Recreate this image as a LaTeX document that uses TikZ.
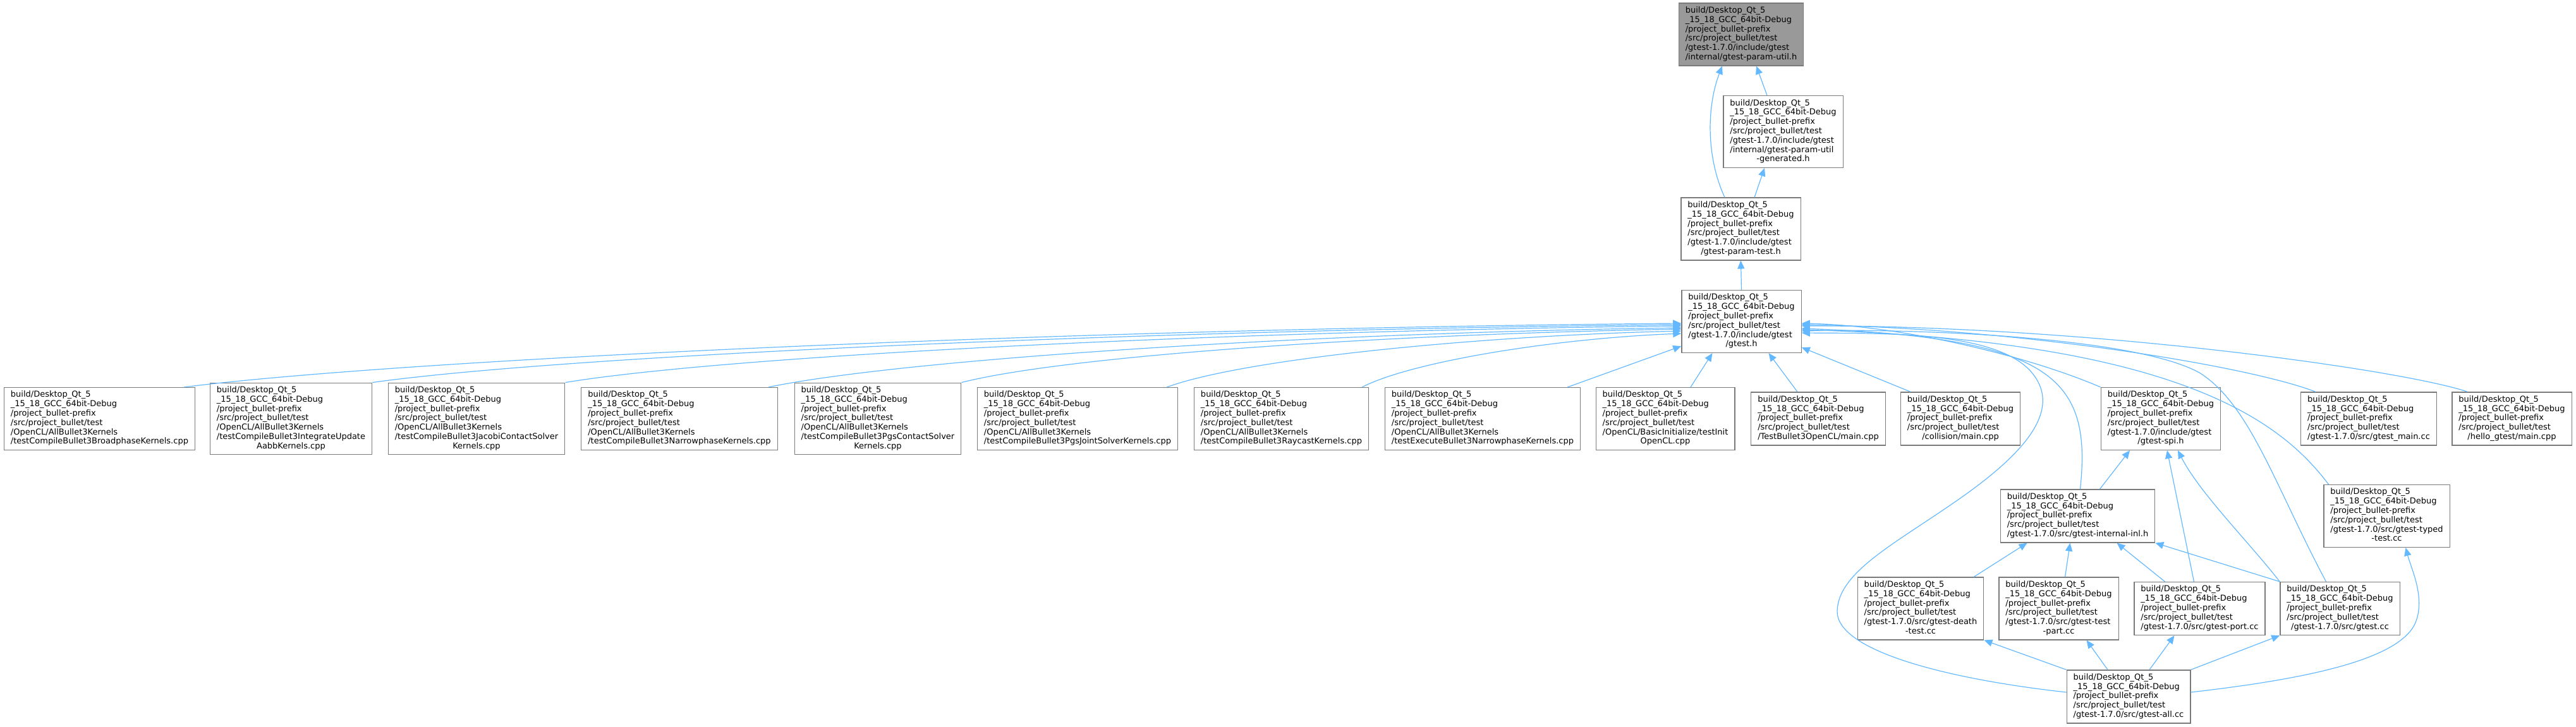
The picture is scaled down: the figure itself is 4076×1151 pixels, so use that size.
\documentclass[tikz,border=0pt]{standalone}
\usepackage{fontspec}
\setmainfont{DejaVu Sans}
\usepackage{xcolor}
\usetikzlibrary{arrows.meta, calc}
\definecolor{edgeblue}{HTML}{63B8FF}
\definecolor{boxgray}{HTML}{7A7A7A}
\definecolor{rootgray}{HTML}{999999}
\tikzset{
  incnode/.style  = {draw=boxgray, line width=0.65pt, fill=white,
                     inner xsep=5.25pt, inner ysep=2.5pt,
                     font=\fontsize{6.5pt}{7.4pt}\selectfont},
  rootnode/.style = {incnode, fill=rootgray},
  dep/.style      = {draw=edgeblue, line width=0.6pt,
                     -{Triangle[length=6.5pt, width=5.6pt]}},
}
\newcommand{\bpath}{build/Desktop\_Qt\_5\\\_15\_18\_GCC\_64bit-Debug\\/project\_bullet-prefix\\/src/project\_bullet/test}
\newcommand{\inclabel}[2]{\begin{tabular}{@{}l@{}}#1\\\multicolumn{1}{@{}c@{}}{#2}\end{tabular}}

\begin{document}
\begin{tikzpicture}[x=0.5pt, y=-0.5pt]
    \useasboundingbox (0,0) rectangle (4076,1151);

    % --- header chain -------------------------------------------------------
    \node[rootnode] (paramutil) at (2755,54.5)
      {\inclabel{\bpath\\/gtest-1.7.0/include/gtest}{/internal/gtest-param-util.h}};
    \node[incnode] (paramgen) at (2821.5,208.5)
      {\inclabel{\bpath\\/gtest-1.7.0/include/gtest\\/internal/gtest-param-util}{-generated.h}};
    \node[incnode] (paramtest) at (2754.5,362.5)
      {\inclabel{\bpath\\/gtest-1.7.0/include/gtest}{/gtest-param-test.h}};
    \node[incnode] (gtesth) at (2755.5,509)
      {\inclabel{\bpath\\/gtest-1.7.0/include/gtest}{/gtest.h}};

    % --- files that include gtest.h -----------------------------------------
    \node[incnode] (broad) at (157.5,663)
      {\inclabel{\bpath\\/OpenCL/AllBullet3Kernels}{/testCompileBullet3BroadphaseKernels.cpp}};
    \node[incnode] (integ) at (460.5,663)
      {\inclabel{\bpath\\/OpenCL/AllBullet3Kernels\\/testCompileBullet3IntegrateUpdate}{AabbKernels.cpp}};
    \node[incnode] (jacobi) at (754,663)
      {\inclabel{\bpath\\/OpenCL/AllBullet3Kernels\\/testCompileBullet3JacobiContactSolver}{Kernels.cpp}};
    \node[incnode] (narrow) at (1075,663)
      {\inclabel{\bpath\\/OpenCL/AllBullet3Kernels}{/testCompileBullet3NarrowphaseKernels.cpp}};
    \node[incnode] (pgscont) at (1389,663)
      {\inclabel{\bpath\\/OpenCL/AllBullet3Kernels\\/testCompileBullet3PgsContactSolver}{Kernels.cpp}};
    \node[incnode] (pgsjoint) at (1705,663)
      {\inclabel{\bpath\\/OpenCL/AllBullet3Kernels}{/testCompileBullet3PgsJointSolverKernels.cpp}};
    \node[incnode] (raycast) at (2027.5,663)
      {\inclabel{\bpath\\/OpenCL/AllBullet3Kernels}{/testCompileBullet3RaycastKernels.cpp}};
    \node[incnode] (execnarrow) at (2346,663)
      {\inclabel{\bpath\\/OpenCL/AllBullet3Kernels}{/testExecuteBullet3NarrowphaseKernels.cpp}};
    \node[incnode] (initcl) at (2635,663)
      {\inclabel{\bpath\\/OpenCL/BasicInitialize/testInit}{OpenCL.cpp}};
    \node[incnode] (b3main) at (2877,663)
      {\inclabel{\bpath}{/TestBullet3OpenCL/main.cpp}};
    \node[incnode] (colmain) at (3102,663)
      {\inclabel{\bpath}{/collision/main.cpp}};
    \node[incnode] (spi) at (3419,663)
      {\inclabel{\bpath\\/gtest-1.7.0/include/gtest}{/gtest-spi.h}};
    \node[incnode] (gmain) at (3748,663)
      {\inclabel{\bpath}{/gtest-1.7.0/src/gtest\_main.cc}};
    \node[incnode] (hello) at (3974.5,663)
      {\inclabel{\bpath}{/hello\_gtest/main.cpp}};

    % --- gtest sources ------------------------------------------------------
    \node[incnode] (internal) at (3287.5,817)
      {\inclabel{\bpath}{/gtest-1.7.0/src/gtest-internal-inl.h}};
    \node[incnode] (typed) at (3776.5,817)
      {\inclabel{\bpath\\/gtest-1.7.0/src/gtest-typed}{-test.cc}};
    \node[incnode] (death) at (3039,963.5)
      {\inclabel{\bpath\\/gtest-1.7.0/src/gtest-death}{-test.cc}};
    \node[incnode] (testpart) at (3257.5,963.5)
      {\inclabel{\bpath\\/gtest-1.7.0/src/gtest-test}{-part.cc}};
    \node[incnode] (port) at (3480.5,963.5)
      {\inclabel{\bpath}{/gtest-1.7.0/src/gtest-port.cc}};
    \node[incnode] (gtestcc) at (3702.5,963.5)
      {\inclabel{\bpath}{/gtest-1.7.0/src/gtest.cc}};
    \node[incnode] (gall) at (3368,1103)
      {\inclabel{\bpath}{/gtest-1.7.0/src/gtest-all.cc}};

    % --- edges: header chain ------------------------------------------------
    \draw[dep] ($(paramgen.north)+(-25.5,0)$) -- ($(paramutil.south)+(24,0)$);
    \draw[dep] ($(paramtest.north)+(21.5,0)$) -- ($(paramgen.south)+(-29.5,0)$);
    \draw[dep] ($(paramtest.north)+(-25.5,0)$) .. controls (2700,250) and (2700,170)
      .. ($(paramutil.south)+(-30,0)$);
    \draw[dep] (gtesth.north) -- (paramtest.south);

    % --- edges: into gtest.h, left side -------------------------------------
    \draw[dep] ($(broad.north)+(133.5,0)$) .. controls (646,568) and (1712,520) .. ($(gtesth.west)+(0,3)$);
    \draw[dep] (integ.north east) .. controls (900,562) and (1832,522) .. ($(gtesth.west)+(0,5)$);
    \draw[dep] (jacobi.north east) .. controls (1160,562) and (1954,524) .. ($(gtesth.west)+(0,7)$);
    \draw[dep] ($(narrow.north east)+(-15,0)$) .. controls (1433,568) and (2082,527) .. ($(gtesth.west)+(0,10)$);
    \draw[dep] (pgscont.north east) .. controls (1693,562) and (2205,529) .. ($(gtesth.west)+(0,12)$);
    \draw[dep] ($(pgsjoint.north east)+(-18,0)$) .. controls (1969,568) and (2335,532) .. ($(gtesth.west)+(0,15)$);
    \draw[dep] ($(raycast.north east)+(-11,0)$) .. controls (2232,573) and (2458,536) .. ($(gtesth.west)+(0,19)$);
    \draw[dep] ($(execnarrow.north east)+(-21,0)$) -- ($(gtesth.west)+(0,39)$);
    \draw[dep] ($(initcl.north)+(40,0)$) -- ($(gtesth.south)+(-46,0)$);
    \draw[dep] ($(b3main.north)+(-33,0)$) -- ($(gtesth.south)+(43,0)$);
    \draw[dep] ($(colmain.north)+(-79,0)$) -- ($(gtesth.east)+(0,41)$);

    % --- edges: into gtest.h, right side ------------------------------------
    \draw[dep] (spi.north west) .. controls (3200,560) and (3000,515) .. ($(gtesth.east)+(0,3)$);
    \draw[dep] ($(gmain.north)+(-84,0)$) .. controls (3560,580) and (3200,520) .. ($(gtesth.east)+(0,5)$);
    \draw[dep] ($(hello.north)+(-70,0)$) .. controls (3800,585) and (3300,515) .. ($(gtesth.east)+(0,7)$);
    \draw[dep] ($(internal.north)+(4,0)$) .. controls (3310,600) and (3250,535) .. ($(gtesth.east)+(0,11)$);
    \draw[dep] ($(typed.north)+(-92,0)$) .. controls (3610,668) and (3450,540) .. ($(gtesth.east)+(0,13)$);
    \draw[dep] ($(gtestcc.north)+(-22,0)$) .. controls (3600,770) and (3560,640) .. (3480,590)
      .. controls (3380,535) and (3050,520) .. ($(gtesth.east)+(0,15)$);
    \draw[dep] ($(gall.west)+(0,-7)$) .. controls (3080,1075) and (2905,1030) .. (2907,967)
      .. controls (2909,905) and (3000,860) .. (3100,790)
      .. controls (3200,720) and (3265,650) .. (3215,590)
      .. controls (3160,524) and (2980,528) .. ($(gtesth.east)+(0,18)$);

    % --- edges: gtest sources -----------------------------------------------
    \draw[dep] ($(internal.north)+(35,0)$) -- ($(spi.south)+(-49,0)$);
    \draw[dep] ($(port.north)+(-9,0)$) -- ($(spi.south)+(10,0)$);
    \draw[dep] (gtestcc.north west) .. controls (3560,860) and (3480,780) .. ($(spi.south)+(27,0)$);
    \draw[dep] ($(death.north)+(84,0)$) -- ($(internal.south)+(-80,0)$);
    \draw[dep] ($(testpart.north)+(10,0)$) -- ($(internal.south)+(-12,0)$);
    \draw[dep] ($(port.north)+(-55,0)$) -- ($(internal.south)+(62,0)$);
    \draw[dep] (gtestcc.north west) -- (internal.south east);
    \draw[dep] (gall.north west) -- (death.south east);
    \draw[dep] ($(gall.north)+(-33,0)$) -- ($(testpart.south)+(44,0)$);
    \draw[dep] ($(gall.north)+(33,0)$) -- ($(port.south)+(-40,0)$);
    \draw[dep] (gall.north east) -- (gtestcc.south west);
    \draw[dep] ($(gall.east)+(0,-7)$) .. controls (3650,1075) and (3790,1045) .. (3820,990)
      .. controls (3840,950) and (3815,900) .. ($(typed.south)+(30,0)$);
\end{tikzpicture}
\end{document}
